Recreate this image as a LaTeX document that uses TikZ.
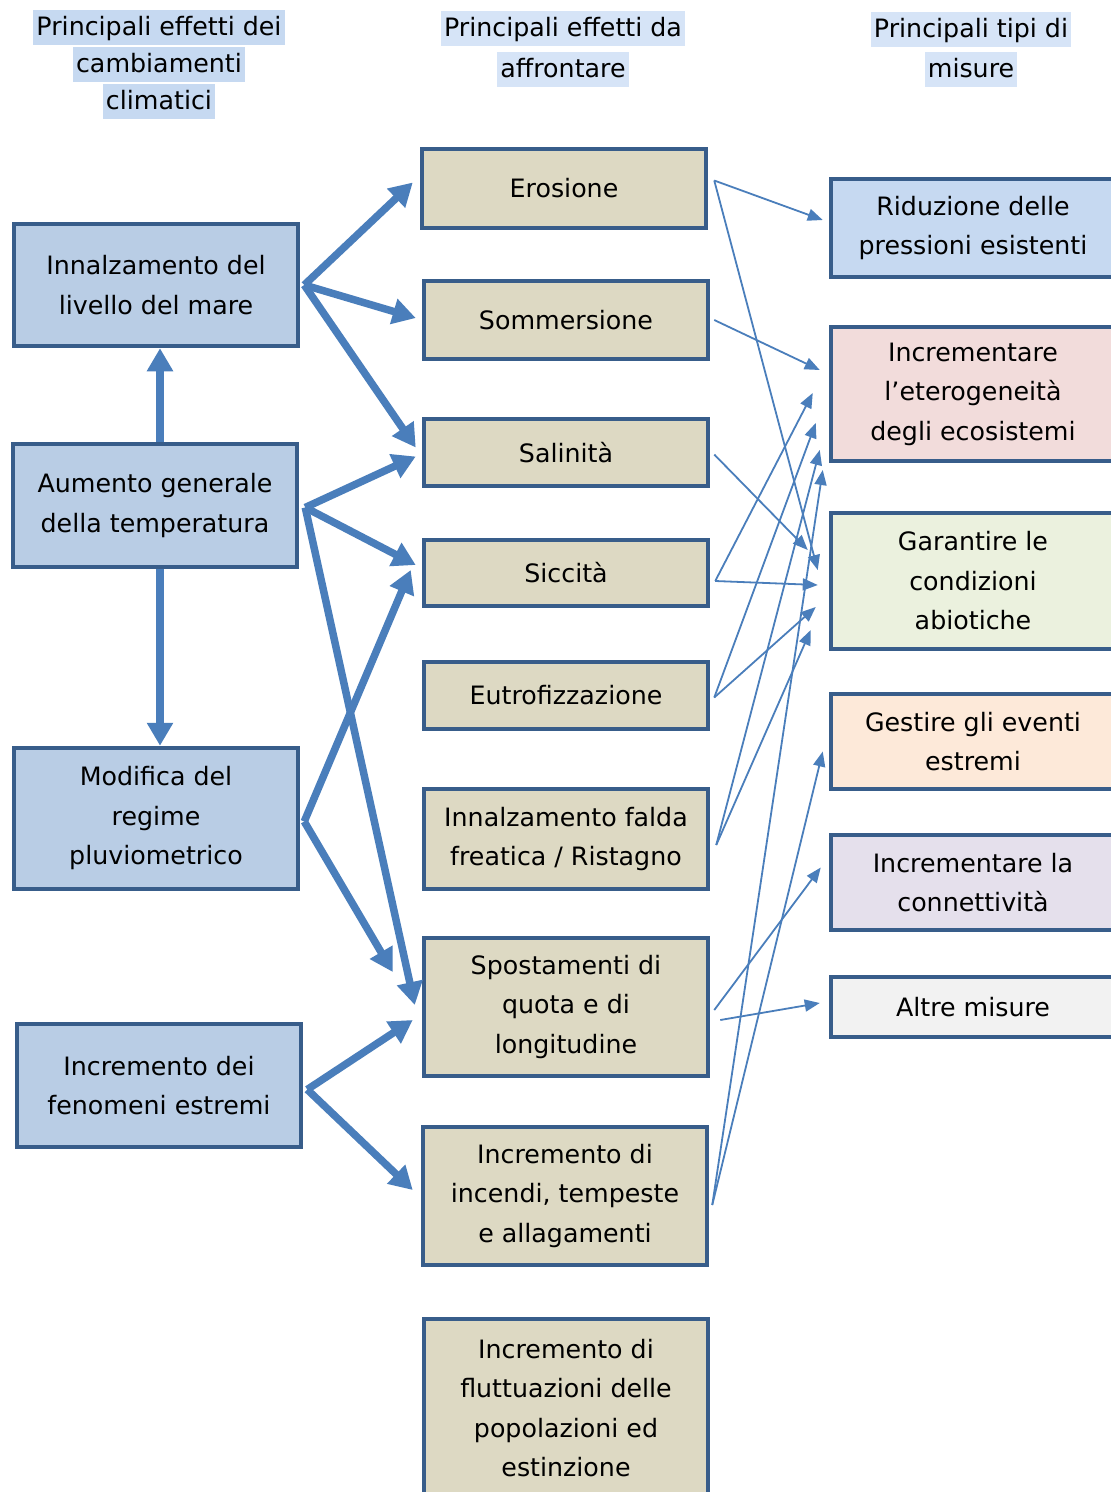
\documentclass[tikz,border=0pt]{standalone}
\usepackage{fontspec}
\setmainfont{DejaVu Sans}
\usetikzlibrary{arrows.meta}

\definecolor{boxline}{HTML}{385D8A}
\definecolor{arrowblue}{HTML}{4A7EBB}
\definecolor{causefill}{HTML}{B9CDE5}
\definecolor{effectfill}{HTML}{DDD9C3}
\definecolor{ridfill}{HTML}{C6D9F1}
\definecolor{etefill}{HTML}{F2DCDB}
\definecolor{garfill}{HTML}{EBF1DE}
\definecolor{gesfill}{HTML}{FDE9D9}
\definecolor{confill}{HTML}{E5E0EC}
\definecolor{altfill}{HTML}{F2F2F2}
\definecolor{hdrA}{HTML}{C6D9F1}
\definecolor{hdrB}{HTML}{D6E4F7}

\setlength{\fboxsep}{0pt}
\newcommand{\hdrline}[2]{\colorbox{#1}{\rule[-9pt]{0pt}{35pt}\hspace{3pt}#2\hspace{3pt}}}

\begin{document}
\begin{tikzpicture}[x=1pt, y=-1pt, >={Triangle[length=23pt, width=25pt]}]
        \tikzstyle{anybox}=[rectangle, draw=boxline, line width=4.5pt, minimum width=284pt, align=center, inner sep=0pt, font=\fontsize{25.3}{39.5}\selectfont]
        \tikzstyle{causebox}=[anybox, fill=causefill]
        \tikzstyle{effectbox}=[anybox, fill=effectfill]
        \tikzstyle{header}=[align=center, inner sep=0pt]
        \tikzstyle{bigarrow}=[->, draw=arrowblue, line width=7.5pt]
        \tikzstyle{link}=[-{Triangle[length=15pt, width=12pt]}, draw=arrowblue, line width=1.8pt]

        \useasboundingbox (0,0) rectangle (1111,1492);

        % Headers
        \node[header, font=\fontsize{25.3}{37}\selectfont] (h1) at (159,64)
            {\hdrline{hdrA}{Principali effetti dei}\\ \hdrline{hdrA}{cambiamenti}\\ \hdrline{hdrA}{climatici}};
        \node[header, font=\fontsize{25.3}{41}\selectfont] (h2) at (563,48.5)
            {\hdrline{hdrB}{Principali effetti da}\\ \hdrline{hdrB}{affrontare}};
        \node[header, font=\fontsize{25.3}{40}\selectfont] (h3) at (971,49)
            {\hdrline{hdrB}{Principali tipi di}\\ \hdrline{hdrB}{misure}};

        % Causes
        \node[causebox, minimum height=122pt] (mare) at (156,285) {Innalzamento del\\livello del mare};
        \node[causebox, minimum height=123pt] (aum) at (155,505.5) {Aumento generale\\della temperatura};
        \node[causebox, minimum height=141pt] (mod) at (156,818.5) {Modifica del\\regime\\pluviometrico};
        \node[causebox, minimum height=123pt] (est) at (159,1085.5) {Incremento dei\\fenomeni estremi};

        % Effects
        \node[effectbox, minimum height=79pt] (ero) at (564,188.5) {Erosione};
        \node[effectbox, minimum height=78pt] (som) at (566,320) {Sommersione};
        \node[effectbox, minimum height=67pt] (sal) at (566,452.5) {Salinità};
        \node[effectbox, minimum height=66pt] (sic) at (566,573) {Siccità};
        \node[effectbox, minimum height=67pt] (eut) at (566,695.5) {Eutrofizzazione};
        \node[effectbox, minimum height=100pt] (fal) at (566,839) {Innalzamento falda\\freatica / Ristagno};
        \node[effectbox, minimum height=138pt] (spo) at (566,1007) {Spostamenti di\\quota e di\\longitudine};
        \node[effectbox, minimum height=138pt] (inc) at (565,1196) {Incremento di\\incendi, tempeste\\e allagamenti};
        \node[effectbox, minimum height=178pt] (flu) at (566,1408) {Incremento di\\fluttuazioni delle\\popolazioni ed\\estinzione};

        % Measures
        \node[anybox, fill=ridfill, minimum height=98pt] (rid) at (973,228) {Riduzione delle\\pressioni esistenti};
        \node[anybox, fill=etefill, minimum height=134pt] (ete) at (973,394) {Incrementare\\l’eterogeneità\\degli ecosistemi};
        \node[anybox, fill=garfill, minimum height=136pt] (gar) at (973,581) {Garantire le\\condizioni\\abiotiche};
        \node[anybox, fill=gesfill, minimum height=95pt] (ges) at (973,741.5) {Gestire gli eventi\\estremi};
        \node[anybox, fill=confill, minimum height=95pt] (con) at (973,882.5) {Incrementare la\\connettività};
        \node[anybox, fill=altfill, minimum height=60pt] (alt) at (973,1007) {Altre misure};

        % Causes -> causes
        \draw[bigarrow] ([xshift=5pt]aum.north) -- ([xshift=4pt]mare.south);
        \draw[bigarrow] ([xshift=5pt]aum.south) -- ([xshift=4pt]mod.north);

        % Causes -> effects
        \draw[bigarrow] ([xshift=4pt]mare.east) -- ([xshift=-7pt,yshift=6pt]ero.west);
        \draw[bigarrow] ([xshift=4pt]mare.east) -- ([xshift=-6pt,yshift=2pt]som.west);
        \draw[bigarrow] ([xshift=4pt]mare.east) -- ([xshift=-6pt,yshift=5pt]sal.west);
        \draw[bigarrow] ([xshift=6pt,yshift=-2pt]aum.east) -- ([xshift=-6pt,yshift=-4pt]sal.west);
        \draw[bigarrow] ([xshift=6pt,yshift=-2pt]aum.east) -- ([xshift=-6pt,yshift=8pt]sic.west);
        \draw[bigarrow] ([xshift=6pt,yshift=-2pt]aum.east) -- ([xshift=-7pt,yshift=2pt]spo.west);
        \draw[bigarrow] ([xshift=4pt,yshift=-3pt]mod.east) -- ([xshift=-11pt,yshift=3pt]sic.west);
        \draw[bigarrow] ([xshift=4pt,yshift=-3pt]mod.east) -- ([xshift=-29pt,yshift=35pt]spo.west);
        \draw[bigarrow] ([xshift=4pt,yshift=-4pt]est.east) -- ([xshift=-9pt,yshift=-13pt]spo.west);
        \draw[bigarrow] ([xshift=4pt,yshift=-4pt]est.east) -- ([xshift=-8pt,yshift=6pt]inc.west);

        % Effects -> measures
        \draw[link] ([xshift=6pt,yshift=8pt]ero.east) -- ([xshift=-6pt,yshift=8pt]rid.west);
        \draw[link] ([xshift=6pt,yshift=8pt]ero.east) -- ([xshift=-11pt,yshift=11pt]gar.west);
        \draw[link] ([xshift=4pt]som.east) -- ([xshift=-9pt,yshift=24pt]ete.west);
        \draw[link] ([xshift=4pt,yshift=-2pt]sal.east) -- ([xshift=-21pt,yshift=31pt]gar.west);
        \draw[link] ([xshift=5pt,yshift=-8pt]sic.east) -- ([xshift=-16pt,yshift=1pt]ete.west);
        \draw[link] ([xshift=5pt,yshift=-8pt]sic.east) -- ([xshift=-11pt,yshift=-4pt]gar.west);
        \draw[link] ([xshift=4pt,yshift=-2pt]eut.east) -- ([xshift=-13pt,yshift=-29pt]ete.west);
        \draw[link] ([xshift=4pt,yshift=-2pt]eut.east) -- ([xshift=-13pt,yshift=-26pt]gar.west);
        \draw[link] ([xshift=6pt,yshift=-6pt]fal.east) -- ([xshift=-9pt,yshift=-56pt]ete.west);
        \draw[link] ([xshift=6pt,yshift=-6pt]fal.east) -- ([xshift=-18pt,yshift=-49pt]gar.west);
        \draw[link] ([xshift=3pt,yshift=-9pt]inc.east) -- ([xshift=-6pt,yshift=-76pt]ete.west);
        \draw[link] ([xshift=3pt,yshift=-9pt]inc.east) -- ([xshift=-6pt,yshift=-10pt]ges.west);
        \draw[link] ([xshift=4pt,yshift=-3pt]spo.east) -- ([xshift=-8pt,yshift=15pt]con.west);
        \draw[link] ([xshift=10pt,yshift=-13pt]spo.east) -- ([xshift=-9pt,yshift=4pt]alt.west);
\end{tikzpicture}
\end{document}
